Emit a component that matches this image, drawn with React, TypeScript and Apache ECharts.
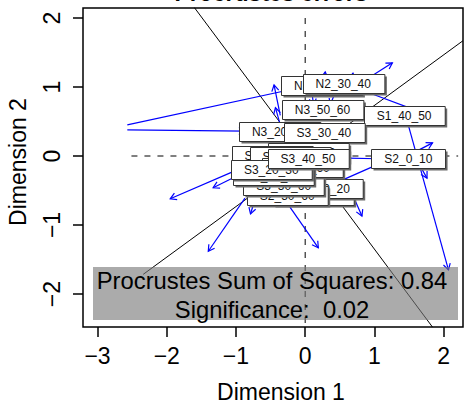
import React, { useEffect, useRef } from "react";
import * as echarts from "echarts";

// Axis ticks
const xTicks = [-3, -2, -1, 0, 1, 2];
const yTicks = [-2, -1, 0, 1, 2];

// Sample labels (draw order: first = bottom)
const labelNames = [
  "S2_20_30", "S1_10_20", "S2_50_60", "S3_50_60", "N1_30_40", "N2_30_40",
  "N3_50_60", "S1_40_50", "N3_20_30", "S3_30_40", "S2_40_50", "S1_30_40",
  "S1_20_30", "S1_50_60", "S2_10_20", "S3_20_30", "S3_40_50", "S2_0_10",
];
const labelX = [0.12, 0.25, -0.26, -0.31, 0.24, 0.55, 0.25, 1.43, -0.37, 0.27, 0.04, -0.48, -0.22, -0.04, -0.46, -0.49, 0.04, 1.49];
const labelY = [-0.57, -0.47, -0.57, -0.43, 1.02, 1.05, 0.67, 0.58, 0.36, 0.34, 0.05, 0.01, -0.01, -0.17, -0.28, -0.19, -0.03, -0.03];

// Procrustes error arrows (from -> to)
const arrowX0 = [0.87, -0.36, -0.36, 0.26, 0.65, -2.57, -2.57, 0.94, 1.47, 1.59, 1.63, 0.62, 1.01, -1.05, -1.01, -0.87, -0.75, -0.22, 0.72, 0.43, 0.10];
const arrowY0 = [1.10, 0.59, 0.45, 0.96, 0.96, 0.45, 0.38, 0.91, 0.52, 0.06, -0.09, -0.03, -0.14, -0.23, -0.30, -0.61, -0.71, -0.74, -0.64, 0.91, 0.91];
const arrowX1 = [1.26, -0.45, -0.43, 0.29, 0.69, -0.22, -0.87, 1.66, 2.07, 1.84, 1.76, 1.05, 0.51, -1.95, -1.33, -1.40, -0.79, 0.19, 0.82, 0.36, 0.12];
const arrowY1 = [1.35, 1.03, 0.70, 1.22, 1.20, 0.96, 0.36, 0.64, -1.65, 0.19, -0.32, -0.04, -0.36, -0.62, -0.46, -1.38, -0.84, -1.33, -0.87, 0.74, 0.74];

// Rotation axes (solid) and zero lines (dashed): x0, y0, x1, y1
const rotationAxes = [
  [-1.60, 2.15, 1.84, -2.48],
  [-2.34, -1.715, 2.28, 1.671],
];
const zeroLines = [
  [-2.51, 0, 2.21, 0],
  [0, 2.0, 0, -2.48],
];

const sumOfSquares = "0.84";
const significance = "0.02";

const FONT = '"Liberation Sans", Arial, Helvetica, sans-serif';
const fmt = (v: number) => (v < 0 ? "\u2212" + Math.abs(v) : String(v));

export default function App() {
  const ref = useRef<HTMLDivElement>(null);
  useEffect(() => {
    if (!ref.current) return;
    const chart = echarts.init(ref.current, null, { renderer: "svg" });
    const ctx = document.createElement("canvas").getContext("2d")!;
    ctx.font = "12px " + FONT;

    const segRender = (color: string, dash: number[] | null) => (params: any, api: any) => {
      const a = api.coord([api.value(0), api.value(1)]);
      const b = api.coord([api.value(2), api.value(3)]);
      return {
        type: "line",
        shape: { x1: a[0], y1: a[1], x2: b[0], y2: b[1] },
        style: { stroke: color, lineWidth: 1, lineDash: dash || undefined },
      };
    };

    chart.setOption({
      animation: false,
      grid: {
        left: 83, top: 8, width: 380, height: 319,
        show: true, borderColor: "#000", borderWidth: 1.5, backgroundColor: "transparent",
      },
      xAxis: {
        type: "value", min: -3.21, max: 2.28,
        axisLine: { show: false, onZero: false }, splitLine: { show: false },
        axisTick: { show: true, length: 10, customValues: xTicks, lineStyle: { color: "#000", width: 1.5 } },
        axisLabel: { customValues: xTicks, formatter: fmt, fontSize: 23, color: "#000", fontFamily: FONT, margin: 17 },
      },
      yAxis: {
        type: "value", min: -2.478, max: 2.145,
        axisLine: { show: false, onZero: false }, splitLine: { show: false },
        axisTick: { show: true, length: 10, customValues: yTicks, lineStyle: { color: "#000", width: 1.5 } },
        axisLabel: { customValues: yTicks, formatter: fmt, fontSize: 23, color: "#000", fontFamily: FONT, margin: 20, rotate: 90 },
      },
      series: [
        {
          type: "custom", silent: true, z: 2,
          data: zeroLines,
          encode: { x: [0, 2], y: [1, 3] },
          renderItem: segRender("#000", [6, 7]),
        },
        {
          type: "custom", silent: true, z: 2,
          data: rotationAxes,
          encode: { x: [0, 2], y: [1, 3] },
          renderItem: segRender("#000", null),
        },
        {
          type: "custom", silent: true, z: 3,
          data: arrowX0.map((v, i) => [v, arrowY0[i], arrowX1[i], arrowY1[i]]),
          encode: { x: [0, 2], y: [1, 3] },
          renderItem: (params: any, api: any) => {
            const a = api.coord([api.value(0), api.value(1)]);
            const b = api.coord([api.value(2), api.value(3)]);
            const ang = Math.atan2(b[1] - a[1], b[0] - a[0]);
            const L = 7, phi = Math.PI / 6;
            const h1 = [b[0] - L * Math.cos(ang - phi), b[1] - L * Math.sin(ang - phi)];
            const h2 = [b[0] - L * Math.cos(ang + phi), b[1] - L * Math.sin(ang + phi)];
            return {
              type: "group",
              children: [
                { type: "line", shape: { x1: a[0], y1: a[1], x2: b[0], y2: b[1] }, style: { stroke: "#0000ff", lineWidth: 1.2 } },
                { type: "polyline", shape: { points: [h1, b, h2] }, style: { stroke: "#0000ff", lineWidth: 1.2, fill: null } },
              ],
            };
          },
        },
        {
          type: "custom", silent: true, z: 4,
          data: labelX.map((v, i) => [v, labelY[i]]),
          encode: { x: 0, y: 1 },
          renderItem: (params: any, api: any) => {
            const p = api.coord([api.value(0), api.value(1)]);
            const name = labelNames[params.dataIndex];
            const w = ctx.measureText(name).width + 26;
            const h = 19;
            const x = Math.round(p[0] - w / 2) + 0.5;
            const y = Math.round(p[1] - h / 2) + 0.5;
            return {
              type: "group",
              children: [
                { type: "rect", shape: { x: x + 2, y: y + 2, width: w, height: h }, style: { fill: "#6a6a6a" } },
                { type: "rect", shape: { x, y, width: w, height: h }, style: { fill: "#fff", stroke: "#333", lineWidth: 1 } },
                {
                  type: "text", x: p[0], y: p[1] + 0.5,
                  style: { text: name, fill: "#111", font: "12px " + FONT, align: "center", verticalAlign: "middle" },
                },
              ],
            };
          },
        },
      ],
      graphic: [
        {
          type: "text", x: 271, y: -7, z: 100,
          style: { text: "Procrustes errors", font: "bold 23px " + FONT, fill: "#000", align: "center", verticalAlign: "middle" },
        },
        {
          type: "text", x: 281, y: 392, z: 100,
          style: { text: "Dimension 1", font: "23px " + FONT, fill: "#000", align: "center", verticalAlign: "middle" },
        },
        {
          type: "text", x: 18, y: 162, rotation: Math.PI / 2, z: 100,
          style: { text: "Dimension 2", font: "23px " + FONT, fill: "#000", align: "center", verticalAlign: "middle" },
        },
        {
          type: "rect", z: 100, shape: { x: 93, y: 267, width: 365, height: 53 },
          style: { fill: "rgba(120,120,120,0.62)" },
        },
        {
          type: "text", x: 272, y: 280, z: 101,
          style: { text: "Procrustes Sum of Squares: " + sumOfSquares, font: "23.8px " + FONT, fill: "#000", align: "center", verticalAlign: "middle" },
        },
        {
          type: "text", x: 272, y: 309, z: 101,
          style: { text: "Significance:  " + significance, font: "23.8px " + FONT, fill: "#000", align: "center", verticalAlign: "middle" },
        },
      ],
    });
    return () => chart.dispose();
  }, []);
  return <div ref={ref} style={{ position: "fixed", left: 0, top: 0, width: 464, height: 404, background: "#fff" }} />;
}
